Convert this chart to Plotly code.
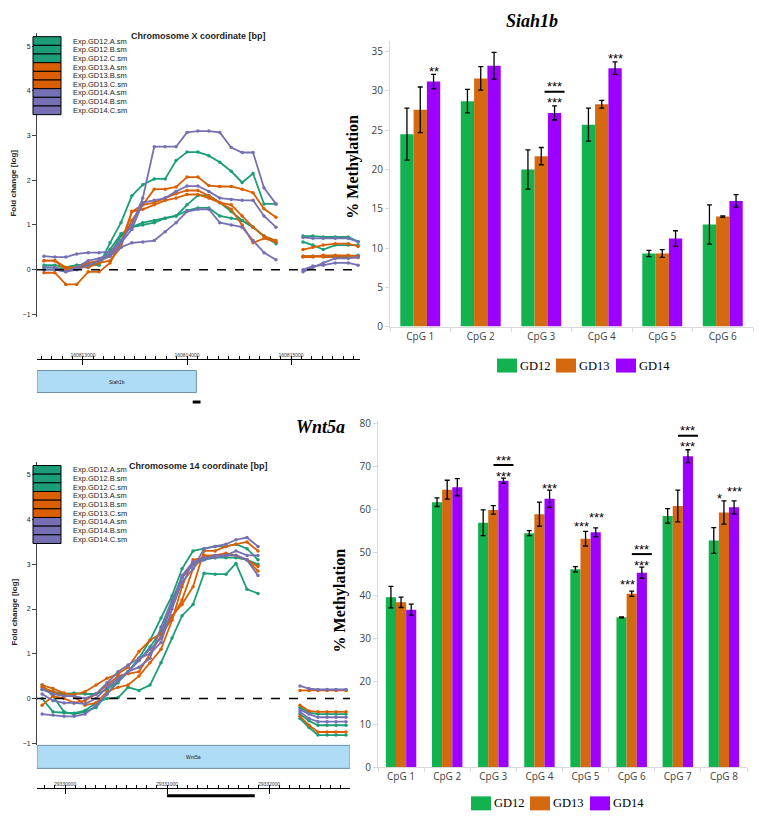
import plotly.graph_objects as go

# ---------------- DATA ----------------
series_names = ["Exp.GD12.A.sm", "Exp.GD12.B.sm", "Exp.GD12.C.sm",
                "Exp.GD13.A.sm", "Exp.GD13.B.sm", "Exp.GD13.C.sm",
                "Exp.GD14.A.sm", "Exp.GD14.B.sm", "Exp.GD14.C.sm"]
line_colors = ["#1b9e77"] * 3 + ["#d95f02"] * 3 + ["#7570b3"] * 3

# Siah1b tiling (chromosome X coordinate, bp)
siah_x_left = [160812625, 160812730, 160812835, 160812940, 160813050, 160813155,
               160813260, 160813365, 160813470, 160813575, 160813685, 160813790,
               160813895, 160814000, 160814105, 160814210, 160814315, 160814425,
               160814530, 160814635, 160814740, 160814855]
siah_x_right = [160815115, 160815210, 160815310, 160815425, 160815550, 160815645]
siah_left = [
    [0.05, 0.05, 0.0, 0.05, 0.1, 0.1, 0.6, 1.05, 1.65, 1.9, 2.03, 2.03, 2.44, 2.63, 2.63, 2.55, 2.4, 2.2, 1.95, 2.15, 1.47, 1.47],
    [0.0, 0.0, 0.05, 0.1, 0.1, 0.15, 0.35, 0.75, 0.95, 1.0, 1.05, 1.15, 1.2, 1.45, 1.66, 1.66, 1.5, 1.3, 1.1, 0.95, 0.75, 0.58],
    [0.1, 0.1, 0.05, 0.1, 0.1, 0.15, 0.45, 0.8, 0.95, 1.05, 1.1, 1.15, 1.2, 1.32, 1.38, 1.38, 1.2, 1.15, 1.1, 0.95, 0.75, 0.6],
    [0.2, 0.2, 0.05, 0.05, 0.15, 0.2, 0.3, 0.6, 1.3, 1.45, 1.8, 1.8, 1.85, 2.07, 2.07, 1.88, 1.86, 1.86, 1.8, 1.72, 1.36, 1.17],
    [-0.07, -0.07, -0.33, -0.33, -0.05, -0.05, 0.15, 0.6, 1.1, 1.45, 1.5, 1.6, 1.7, 1.77, 1.77, 1.65, 1.5, 1.45, 1.2, 0.95, 0.75, 0.65],
    [0.2, 0.2, 0.0, 0.05, 0.05, 0.15, 0.2, 0.5, 1.3, 1.35, 1.45, 1.55, 1.6, 1.68, 1.68, 1.6, 1.5, 1.35, 1.0, 0.6, 0.7, 0.62],
    [0.3, 0.28, 0.28, 0.35, 0.38, 0.38, 0.4, 0.65, 1.0, 1.6, 2.75, 2.75, 2.75, 3.07, 3.1, 3.1, 3.07, 2.73, 2.62, 2.62, 1.83, 1.47],
    [0.0, 0.0, -0.05, 0.05, 0.2, 0.25, 0.35, 0.6, 0.9, 1.5, 1.55, 1.6, 1.75, 1.87, 1.87, 1.75, 1.6, 1.57, 1.55, 1.55, 1.2, 0.95],
    [0.05, 0.05, -0.05, 0.0, 0.1, 0.2, 0.3, 0.5, 0.6, 0.62, 0.65, 0.85, 1.05, 1.3, 1.35, 1.35, 1.05, 1.0, 0.95, 0.65, 0.38, 0.22],
]
siah_right = [
    [0.75, 0.75, 0.73, 0.73, 0.73, 0.63],
    [0.62, 0.55, 0.45, 0.55, 0.55, 0.55],
    [0.3, 0.3, 0.3, 0.3, 0.3, 0.32],
    [0.45, 0.5, 0.55, 0.58, 0.58, 0.52],
    [0.28, 0.28, 0.32, 0.32, 0.32, 0.3],
    [0.3, 0.3, 0.28, 0.28, 0.28, 0.27],
    [0.72, 0.7, 0.7, 0.7, 0.7, 0.62],
    [-0.05, 0.05, 0.15, 0.25, 0.25, 0.28],
    [0.0, 0.08, 0.1, 0.15, 0.15, 0.1],
]

# Wnt5a tiling (chromosome 14 coordinate, bp)
wnt_x_left = [29329775, 29329882, 29329990, 29330088, 29330196, 29330304, 29330412,
              29330520, 29330618, 29330725, 29330833, 29330941, 29331049, 29331147,
              29331255, 29331363, 29331471, 29331578, 29331676, 29331784, 29331892]
wnt_x_right = [29332304, 29332392, 29332480, 29332569, 29332657, 29332755]
wnt_left = [
    [0.0, -0.3, -0.32, -0.33, -0.27, -0.1, 0.0, 0.02, 0.25, 0.18, 0.3, 0.8, 1.35, 1.85, 2.1, 2.8, 2.78, 2.78, 3.02, 2.44, 2.35],
    [0.2, 0.15, 0.1, 0.12, 0.1, 0.1, 0.2, 0.4, 0.6, 0.9, 1.3, 1.8, 2.3, 2.9, 3.3, 3.35, 3.4, 3.4, 3.45, 3.35, 3.1],
    [0.3, 0.05, -0.3, -0.35, -0.3, -0.2, 0.1, 0.35, 0.6, 0.85, 1.15, 1.5, 2.1, 2.7, 3.0, 3.1, 3.15, 3.15, 3.15, 3.1, 3.0],
    [0.3, 0.22, 0.12, 0.08, 0.15, 0.3, 0.45, 0.55, 0.7, 1.05, 1.3, 1.45, 1.85, 2.1, 2.5, 3.3, 3.3, 3.4, 3.45, 3.5, 3.3],
    [-0.15, 0.05, 0.0, -0.1, -0.05, 0.1, 0.3, 0.5, 0.55, 0.6, 1.0, 1.4, 1.8, 2.2, 2.9, 3.2, 3.2, 3.2, 3.2, 3.1, 2.95],
    [0.25, 0.15, 0.05, 0.05, -0.15, -0.1, 0.15, 0.25, 0.3, 0.5, 0.8, 1.1, 1.75, 2.5, 3.1, 3.15, 3.2, 3.25, 3.2, 3.1, 2.85],
    [0.2, 0.1, 0.05, 0.05, 0.0, 0.1, 0.35, 0.6, 0.75, 0.9, 1.0, 1.25, 2.0, 2.6, 2.9, 3.35, 3.4, 3.45, 3.55, 3.6, 3.4],
    [-0.35, -0.37, -0.4, -0.4, -0.35, -0.15, 0.1, 0.4, 0.6, 0.7, 0.9, 1.6, 2.2, 2.7, 3.0, 3.1, 3.2, 3.2, 3.3, 3.2, 3.2],
    [0.1, -0.05, -0.1, -0.1, -0.12, 0.0, 0.25, 0.45, 0.6, 0.85, 1.1, 1.35, 2.15, 2.75, 3.05, 3.15, 3.15, 3.2, 3.2, 3.1, 2.75],
]
wnt_right = [
    [-0.2, -0.32, -0.35, -0.35, -0.35, -0.35],
    [-0.35, -0.5, -0.6, -0.6, -0.6, -0.6],
    [-0.45, -0.65, -0.82, -0.82, -0.82, -0.82],
    [0.18, 0.18, 0.18, 0.18, 0.18, 0.18],
    [-0.15, -0.28, -0.3, -0.3, -0.3, -0.3],
    [-0.4, -0.6, -0.75, -0.75, -0.75, -0.75],
    [0.28, 0.22, 0.2, 0.2, 0.2, 0.2],
    [-0.25, -0.35, -0.42, -0.42, -0.42, -0.42],
    [-0.3, -0.45, -0.52, -0.52, -0.52, -0.52],
]

# Gene models / amplicons (bp)
siah_view = [160812558, 160815663]
siah_gene = [160812558, 160814090]
siah_amplicon = [160814055, 160814130]
siah_ticks = [160813000, 160814000, 160815000]
wnt_view = [29329725, 29332794]
wnt_gene = [29329725, 29332794]
wnt_amplicon = [29331000, 29331860]
wnt_ticks = [29330000, 29331000, 29332000]

# Methylation bars
groups = ["GD12", "GD13", "GD14"]
bar_colors = ["#12b24e", "#d4690f", "#9c00ff"]
siah_cpg = ["CpG 1", "CpG 2", "CpG 3", "CpG 4", "CpG 5", "CpG 6"]
siah_meth = [[24.5, 28.7, 20.0, 25.7, 9.3, 13.0],
             [27.6, 31.6, 21.7, 28.3, 9.3, 14.0],
             [31.2, 33.2, 27.2, 32.9, 11.2, 16.0]]
siah_err = [[3.3, 1.5, 2.5, 2.1, 0.4, 2.5],
            [2.9, 1.5, 1.1, 0.5, 0.5, 0.1],
            [0.9, 1.7, 0.9, 0.8, 1.0, 0.8]]
wnt_cpg = ["CpG 1", "CpG 2", "CpG 3", "CpG 4", "CpG 5", "CpG 6", "CpG 7", "CpG 8"]
wnt_meth = [[39.6, 61.7, 56.9, 54.5, 46.1, 34.9, 58.5, 52.8],
            [38.4, 64.6, 59.9, 58.9, 53.2, 40.4, 60.8, 59.3],
            [36.7, 65.2, 66.7, 62.5, 54.7, 45.3, 72.4, 60.5]]
wnt_err = [[2.5, 1.0, 3.0, 0.6, 0.6, 0.1, 1.7, 3.0],
           [1.2, 2.2, 1.0, 2.8, 1.7, 0.6, 3.7, 2.7],
           [1.3, 2.0, 0.6, 2.0, 1.0, 1.3, 1.5, 1.5]]

# significance marks: (cpg index, group index, text, pixel offset above error bar, x nudge)
siah_sig = [(0, 2, "**", 6, 0), (2, 2, "***", 6, 0), (2, 2, "***", 22, 0), (3, 2, "***", 6, 0)]
siah_sig_lines = [(2, 2, 14)]
wnt_sig = [(2, 2, "***", 5, 0), (2, 2, "***", 21, 0), (3, 2, "***", 5, 0),
           (4, 1, "***", 8, -4), (4, 2, "***", 13, 1),
           (5, 1, "***", 10, -4), (5, 2, "***", 5, 0), (5, 2, "***", 21, 0),
           (6, 2, "***", 6, 0), (6, 2, "***", 22, 0),
           (7, 1, "*", 5, -4), (7, 2, "***", 12, 0)]
wnt_sig_lines = [(2, 2, 13), (5, 2, 13), (6, 2, 14)]

# ---------------- FIGURE ----------------
W, H = 759, 820
SANS = "Liberation Sans, Arial, sans-serif"
SERIF = "Liberation Serif, Times New Roman, serif"
CAL = "Open Sans, Noto Sans, sans-serif"


def px(x):
    return x / W


def py(y):
    # vertical pixel (from top) -> paper fraction, with a small calibration
    return 1 - ((y - 3.3) / 0.987) / H


fig = go.Figure()

# line charts
for (xl, xr, left, right, xa, ya) in [
        (siah_x_left, siah_x_right, siah_left, siah_right, "x", "y"),
        (wnt_x_left, wnt_x_right, wnt_left, wnt_right, "x3", "y3")]:
    for i in range(9):
        for xs, vs in [(xl, left[i]), (xr, right[i])]:
            fig.add_trace(go.Scatter(
                x=xs, y=vs, mode="lines+markers", xaxis=xa, yaxis=ya,
                line=dict(color=line_colors[i], width=1.8),
                marker=dict(color=line_colors[i], size=3.5),
                showlegend=False, hoverinfo="skip"))

# bar charts
for (cats, vals, errs, xa, ya) in [
        (siah_cpg, siah_meth, siah_err, "x2", "y2"),
        (wnt_cpg, wnt_meth, wnt_err, "x4", "y4")]:
    for g in range(3):
        fig.add_trace(go.Bar(
            x=cats, y=vals[g], name=groups[g], xaxis=xa, yaxis=ya,
            marker=dict(color=bar_colors[g], line=dict(width=0)),
            error_y=dict(type="data", array=errs[g], color="black",
                         thickness=1.3, width=2.5),
            showlegend=False))

annotations = []
shapes = []


def note(x, y, text, size, family=SANS, color="#222", xref="paper", yref="paper",
         xanchor="center", angle=0, yshift=0, xshift=0):
    annotations.append(dict(x=x, y=y, xref=xref, yref=yref, text=text, showarrow=False,
                            xanchor=xanchor, yanchor="middle", textangle=angle,
                            yshift=yshift, xshift=xshift,
                            font=dict(family=family, size=size, color=color)))


# significance annotations
for (vals, errs, sig, lines, xa, ya) in [
        (siah_meth, siah_err, siah_sig, siah_sig_lines, "x2", "y2"),
        (wnt_meth, wnt_err, wnt_sig, wnt_sig_lines, "x4", "y4")]:
    for (c, g, txt, off, nudge) in sig:
        note(c + (g - 1) * 0.22, vals[g][c] + errs[g][c], txt, 13, color="black",
             xref=xa, yref=ya, yshift=off - 3, xshift=nudge)
    for (c, g, off) in lines:
        shapes.append(dict(
            type="line", xref=xa, yref=ya, xsizemode="pixel", ysizemode="pixel",
            xanchor=c + (g - 1) * 0.22, yanchor=vals[g][c] + errs[g][c],
            x0=-10, x1=10, y0=off, y1=off, line=dict(color="black", width=2)))

# bar chart legends (colour box + label)
for (boxes, yc) in [([497, 556, 616], 365), ([471, 530, 590], 803)]:
    for g in range(3):
        shapes.append(dict(type="rect", xref="paper", yref="paper",
                           x0=px(boxes[g]), x1=px(boxes[g] + 20), y0=py(yc + 7), y1=py(yc - 7),
                           fillcolor=bar_colors[g], line=dict(width=0)))
        note(px(boxes[g] + 21), py(yc), groups[g], 12.5, family=SERIF, color="black",
             xanchor="left")

# zero dashed lines
for (xa, ya) in [("x", "y"), ("x3", "y3")]:
    shapes.append(dict(type="line", xref=xa + " domain", yref=ya, x0=0, x1=1,
                       y0=0, y1=0, line=dict(color="black", width=1.5, dash="dash")))

# gene boxes and amplicon bars
shapes.append(dict(type="rect", xref="x", yref="paper", x0=siah_gene[0], x1=siah_gene[1],
                   y0=py(392), y1=py(370), fillcolor="#aedcf4",
                   line=dict(color="#6a8fae", width=1)))
note((siah_gene[0] + siah_gene[1]) / 2, py(381), "Siah1b", 5, xref="x")
shapes.append(dict(type="rect", xref="x", yref="paper", x0=siah_amplicon[0], x1=siah_amplicon[1],
                   y0=py(403), y1=py(400), fillcolor="black", line=dict(width=0)))
shapes.append(dict(type="rect", xref="x3", yref="paper", x0=wnt_gene[0], x1=wnt_gene[1],
                   y0=py(768), y1=py(745), fillcolor="#aedcf4",
                   line=dict(color="#6a8fae", width=1)))
note((wnt_gene[0] + wnt_gene[1]) / 2, py(757), "Wnt5a", 5, xref="x3")
shapes.append(dict(type="rect", xref="x3", yref="paper", x0=wnt_amplicon[0], x1=wnt_amplicon[1],
                   y0=py(797), y1=py(794), fillcolor="black", line=dict(width=0)))

# line chart legends (stacked colour boxes)
for top in (36, 465):
    h = (114 - 36) / 9
    for i in range(9):
        y0 = top + i * h
        shapes.append(dict(type="rect", xref="paper", yref="paper",
                           x0=px(33), x1=px(61), y0=py(y0 + h), y1=py(y0),
                           fillcolor=line_colors[i], line=dict(color="black", width=1)))
        note(px(71), py(y0 + h / 2), series_names[i], 7.5, xanchor="left")

# titles and axis titles
note(px(532), py(20), "<b><i>Siah1b</i></b>", 18, family=SERIF, color="black")
note(px(320), py(426), "<b><i>Wnt5a</i></b>", 18, family=SERIF, color="black")
note(px(198), py(35), "<b>Chromosome X coordinate [bp]</b>", 9)
note(px(198), py(465), "<b>Chromosome 14 coordinate [bp]</b>", 9)
note(px(14), py(183), "<b>Fold change [log]</b>", 8, angle=-90)
note(px(14), py(612), "<b>Fold change [log]</b>", 8, angle=-90)
note(px(353), py(166), "<b>% Methylation</b>", 16, family=SERIF, color="black", angle=-90)
note(px(340), py(600), "<b>% Methylation</b>", 16, family=SERIF, color="black", angle=-90)

line_y = dict(showline=True, linecolor="#444", linewidth=1, ticks="outside", ticklen=4,
              tickcolor="#444", tickvals=[-1, 0, 1, 2, 3, 4, 5], showgrid=False, zeroline=False,
              tickfont=dict(family=SANS, size=7, color="#222"), range=[-1.05, 5.3])
coord_x = dict(anchor="free", side="top", showline=True, linecolor="black", linewidth=1,
               ticks="inside", ticklen=5, tickcolor="black", showgrid=False, zeroline=False,
               tickfont=dict(family=SANS, size=5, color="#333"),
               minor=dict(dtick=100, ticks="outside", ticklen=3, tickcolor="black"))
bar_y = dict(showline=True, linecolor="#d9d9d9", ticks="outside", ticklen=4, tickcolor="#d9d9d9",
             showgrid=False, zeroline=False, tickfont=dict(family=CAL, size=10, color="#404040"))
bar_x = dict(showline=True, linecolor="#d9d9d9", ticks="outside", ticklen=4, tickcolor="#d9d9d9",
             tickson="boundaries", showgrid=False,
             tickfont=dict(family=CAL, size=10, color="#404040"))

fig.update_layout(
    width=W, height=H, margin=dict(l=0, r=0, t=0, b=0),
    paper_bgcolor="white", plot_bgcolor="rgba(0,0,0,0)",
    barmode="group", bargap=0.34, bargroupgap=0, showlegend=False,
    xaxis=dict(coord_x, domain=[px(37), px(360)], range=siah_view, position=py(358),
               tickvals=siah_ticks, ticktext=[str(v) for v in siah_ticks]),
    yaxis=dict(line_y, domain=[py(316), py(32)], anchor="x"),
    xaxis3=dict(coord_x, domain=[px(37), px(350)], range=wnt_view, position=py(788),
                tickvals=wnt_ticks, ticktext=[str(v) for v in wnt_ticks]),
    yaxis3=dict(line_y, domain=[py(745), py(461)], anchor="x3"),
    xaxis2=dict(bar_x, domain=[px(390), px(753)], anchor="y2"),
    yaxis2=dict(bar_y, domain=[py(326), py(40)], range=[0, 36.4], dtick=5, anchor="x2"),
    xaxis4=dict(bar_x, domain=[px(378), px(747)], anchor="y4"),
    yaxis4=dict(bar_y, domain=[py(767), py(420)], range=[0, 80.7], dtick=10, anchor="x4"),
    annotations=annotations, shapes=shapes,
)

fig.write_html(
    "out.html",
    config={"displayModeBar": False, "staticPlot": True},
    post_script=("var s=document.documentElement.style;s.margin='0';s.padding='0';"
                 "s.overflow='hidden';"
                 "var b=document.body.style;b.margin='0';b.padding='0';b.overflow='hidden';"))
